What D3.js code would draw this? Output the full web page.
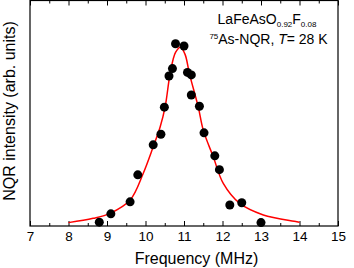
<!DOCTYPE html>
<html>
<head>
<meta charset="utf-8">
<script src="https://cdn.jsdelivr.net/npm/d3@7"></script>
<style>
  body { margin: 0; background: #fff; }
  svg { display: block; font-family: "Liberation Sans", Arial, sans-serif; }
</style>
</head>
<body>
<div id="chart"></div>
<script>
// measured points (frequency in MHz, intensity in arb. units)
const freq = [8.80, 9.10, 9.60, 9.80, 10.20, 10.40, 10.49, 10.61, 10.70, 10.78, 11.00,
              11.09, 11.19, 11.19, 11.40, 11.52, 11.80, 11.92, 12.19, 12.50, 13.00];
const intensity = [1.7, 5.4, 10.7, 22.7, 36.0, 40.7, 52.7, 66.5, 69.8, 80.8, 79.8,
                   68.1, 67.0, 58.1, 53.1, 41.3, 31.1, 25.0, 9.3, 10.3, 1.5];

// fitted line
const fitFreq = [8.00, 8.64, 9.08, 9.60, 9.94, 10.20, 10.38, 10.51, 10.64, 10.78, 10.91,
                 11.03, 11.14, 11.37, 11.50, 11.76, 12.02, 12.45, 13.06, 13.93, 14.00];
const fitIntensity = [1.5, 3.4, 5.6, 11.5, 23.3, 35.1, 43.9, 52.8, 67.6, 77.0, 79.3,
                      76.0, 67.6, 52.8, 42.5, 30.7, 18.9, 10.0, 4.9, 1.9, 1.6];

const xTicks = [7, 8, 9, 10, 11, 12, 13, 14, 15];
const xMinor = [7.5, 8.5, 9.5, 10.5, 11.5, 12.5, 13.5, 14.5];

const width = 354, height = 268;
const margin = { top: 0.5, right: 16, bottom: 42, left: 30 };
const w = width - margin.left - margin.right;
const h = height - margin.top - margin.bottom;

const svg = d3.select("#chart").append("svg")
    .attr("width", width)
    .attr("height", height);

const g = svg.append("g")
    .attr("transform", "translate(" + margin.left + "," + margin.top + ")");

const x = d3.scaleLinear().domain([7, 15]).range([0, w]);
const y = d3.scaleLinear().domain([0, 100]).range([h, 0]);

// bottom axis, ticks pointing inward
g.append("g")
    .attr("transform", "translate(0," + h + ")")
    .call(d3.axisBottom(x).tickValues(xTicks).tickSize(-5).tickPadding(5).tickFormat(d3.format("d")))
    .call(a => a.select(".domain").remove())
    .call(a => a.selectAll("text").attr("font-size", 13.5).attr("fill", "#000"));

g.append("g")
    .attr("transform", "translate(0," + h + ")")
    .call(d3.axisBottom(x).tickValues(xMinor).tickSize(-3).tickFormat(""))
    .call(a => a.select(".domain").remove());

// top axis
g.append("g")
    .call(d3.axisTop(x).tickValues(xTicks).tickSize(-5).tickFormat(""))
    .call(a => a.select(".domain").remove());

g.append("g")
    .call(d3.axisTop(x).tickValues(xMinor).tickSize(-3).tickFormat(""))
    .call(a => a.select(".domain").remove());

g.selectAll(".tick line").attr("stroke", "#000").attr("stroke-width", 1);

// frame
g.append("rect")
    .attr("width", w)
    .attr("height", h)
    .attr("fill", "none")
    .attr("stroke", "#000")
    .attr("stroke-width", 1.2);

// fit curve
const fit = fitFreq.map((f, i) => [f, fitIntensity[i]]);
g.append("path")
    .datum(fit)
    .attr("fill", "none")
    .attr("stroke", "#ff0000")
    .attr("stroke-width", 1.5)
    .attr("d", d3.line().x(d => x(d[0])).y(d => y(d[1])).curve(d3.curveCatmullRom));

// data points
g.selectAll(".dot")
    .data(freq.map((f, i) => [f, intensity[i]]))
    .enter().append("circle")
    .attr("class", "dot")
    .attr("r", 4.5)
    .attr("cx", d => x(d[0]))
    .attr("cy", d => y(d[1]))
    .attr("fill", "#000");

// axis titles
svg.append("text")
    .attr("x", 196.5)
    .attr("y", 263.5)
    .attr("text-anchor", "middle")
    .attr("font-size", 16)
    .text("Frequency (MHz)");

svg.append("text")
    .attr("transform", "translate(14.5,111) rotate(-90)")
    .attr("text-anchor", "middle")
    .attr("font-size", 16)
    .text("NQR intensity (arb. units)");

// annotation
const t1 = svg.append("text")
    .attr("x", 267)
    .attr("y", 24)
    .attr("text-anchor", "middle")
    .attr("font-size", 14);
t1.append("tspan").text("LaFeAsO");
t1.append("tspan").attr("font-size", 8).attr("dy", 3).text("0.92");
t1.append("tspan").attr("dy", -3).text("F");
t1.append("tspan").attr("font-size", 8).attr("dy", 3).text("0.08");

const t2 = svg.append("text")
    .attr("x", 268.5)
    .attr("y", 43.5)
    .attr("text-anchor", "middle")
    .attr("font-size", 14);
t2.append("tspan").attr("font-size", 8).attr("dy", -5).text("75");
t2.append("tspan").attr("dy", 5).text("As-NQR, ");
t2.append("tspan").attr("font-style", "italic").text("T");
t2.append("tspan").text("= 28 K");
</script>
</body>
</html>
